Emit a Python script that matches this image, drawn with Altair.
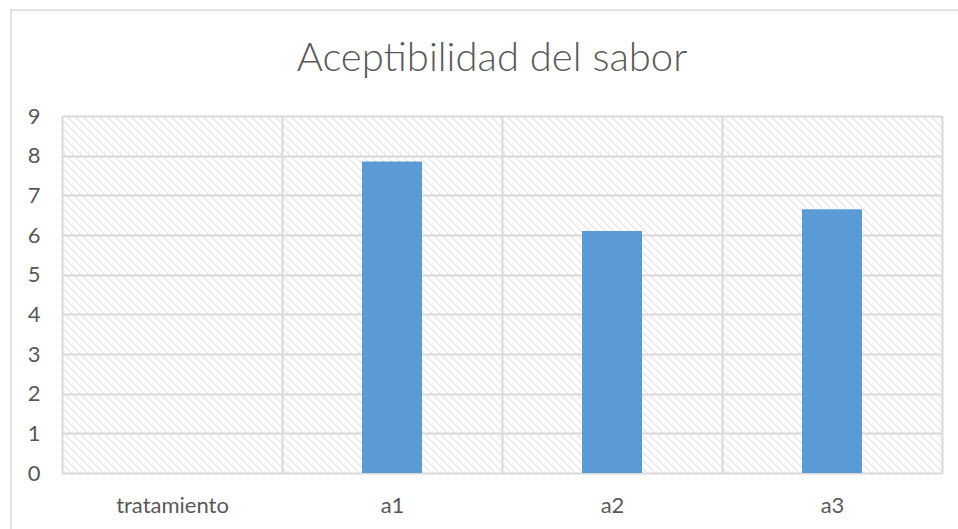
import altair as alt
import pandas as pd

# Mean acceptability scores per treatment
categories = ["tratamiento", "a1", "a2", "a3"]
scores = [None, 7.85, 6.1, 6.65]
y_ticks = list(range(0, 10))

W, H = 880, 357
GRID = "#d9d9d9"
TEXT = "#595959"
FONT = "Lato"

df = pd.DataFrame({"tratamiento": categories, "sabor": scores})


def hatch_gradient(w, h, period=8.0, line=2.8, ink="#cdcdcd"):
    """Downward-diagonal hatch as a linear gradient of thin stripes on a clear ground."""
    clear = "rgba(255,255,255,0)"
    span = w + h
    k = span / (w * w + h * h)
    stops = [{"offset": 0, "color": clear}]
    s = 0.0
    while s + line < span:
        stops += [
            {"offset": s / span, "color": clear},
            {"offset": (s + line / 2) / span, "color": ink},
            {"offset": (s + line) / span, "color": clear},
        ]
        s += period
    stops.append({"offset": 1, "color": clear})
    return alt.LinearGradient(
        gradient="linear",
        x1=0, y1=1, x2=k * w, y2=1 - k * h,
        stops=stops,
    )


one_row = alt.Data(values=[{"k": 0}])

hatch = alt.Chart(one_row).mark_rect(fill=hatch_gradient(W, H)).encode(
    x=alt.value(0), x2=alt.value("width"),
    y=alt.value(0), y2=alt.value("height"),
)

# chart-area border: only its left and top edges fall inside the canvas
frame = alt.Chart(one_row).mark_rect(
    fill="transparent", stroke=GRID, strokeWidth=1.5
).encode(
    x=alt.value(-51), x2=alt.value(W + 100),
    y=alt.value(-106), y2=alt.value(H + 100),
)

title = alt.Chart(one_row).mark_text(
    text="Aceptibilidad del sabor",
    fontSize=40, font=FONT, fontWeight=300, color=TEXT,
    align="center", baseline="middle",
).encode(x=alt.value(W / 2 - 10), y=alt.value(-57))

bars = alt.Chart(df).mark_bar(color="#5b9bd5", width=alt.RelativeBandSize(60 / 220)).encode(
    x=alt.X(
        "tratamiento:N",
        sort=categories,
        scale=alt.Scale(domain=categories, paddingInner=0, paddingOuter=0),
        axis=alt.Axis(
            title=None, labelAngle=0, ticks=False, domain=False,
            grid=True, tickBand="extent", gridColor=GRID, gridWidth=2,
            labelPadding=22, labelFontSize=22, labelColor=TEXT, labelFont=FONT,
        ),
    ),
    y=alt.Y(
        "sabor:Q",
        scale=alt.Scale(domain=[0, 9], nice=False),
        axis=alt.Axis(
            title=None, values=y_ticks, ticks=False, domain=False,
            grid=True, gridColor=GRID, gridWidth=2,
            labelPadding=22, labelFontSize=22, labelColor=TEXT, labelFont=FONT,
        ),
    ),
)

chart = alt.layer(frame, hatch, bars, title).properties(
    width=W,
    height=H,
    autosize=alt.AutoSizeParams(type="none"),
    padding={"left": 62, "top": 116, "right": 16, "bottom": 56},
).configure_view(stroke=GRID, strokeWidth=2).configure(background="white")

chart.save("out.html", embed_options={"renderer": "svg", "actions": False})
